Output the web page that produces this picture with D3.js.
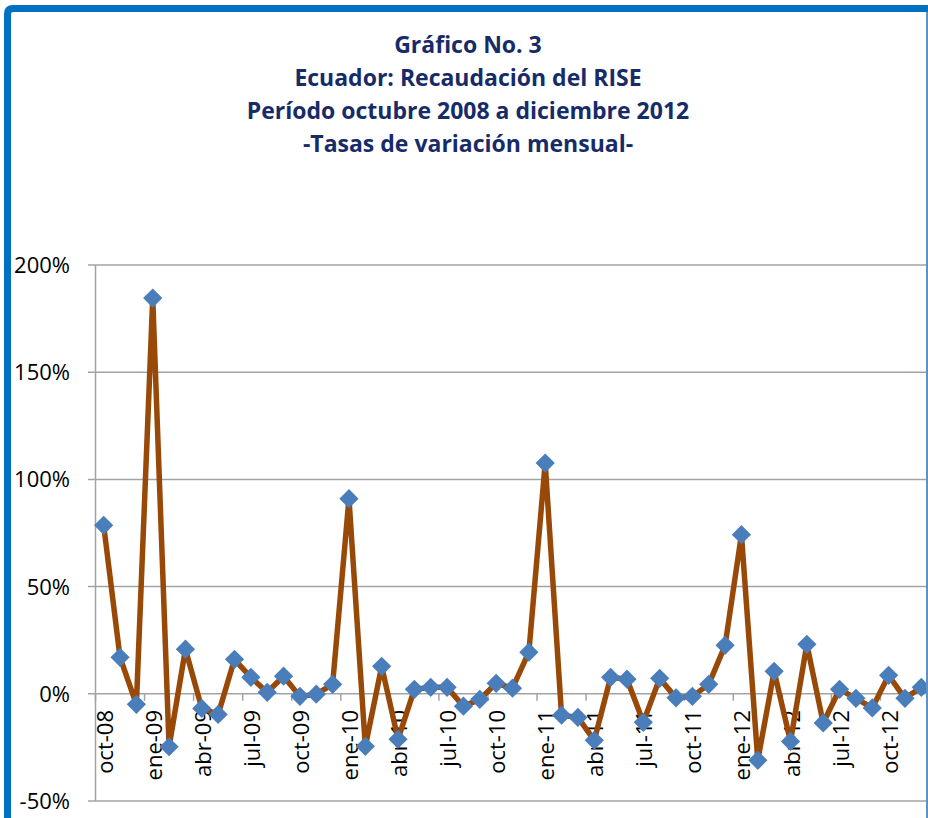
<!DOCTYPE html>
<html>
<head>
<meta charset="utf-8">
<script src="https://cdn.jsdelivr.net/npm/d3@7"></script>
<style>
  body { margin: 0; background: #fff; }
  svg { display: block; font-family: "Open Sans", sans-serif; }
  .grid line { stroke: #a3a3a3; stroke-width: 1.5; }
  .ylab { font-size: 22px; fill: #000; }
  .xlab { font-size: 22px; fill: #000; }
  .title { font-size: 23px; font-weight: bold; fill: #172b69; }
</style>
</head>
<body>
<svg id="chart" width="928" height="818"></svg>
<script>
// months oct-08 .. dic-12
var months = ["oct-08","nov-08","dic-08",
  "ene-09","feb-09","mar-09","abr-09","may-09","jun-09","jul-09","ago-09","sep-09","oct-09","nov-09","dic-09",
  "ene-10","feb-10","mar-10","abr-10","may-10","jun-10","jul-10","ago-10","sep-10","oct-10","nov-10","dic-10",
  "ene-11","feb-11","mar-11","abr-11","may-11","jun-11","jul-11","ago-11","sep-11","oct-11","nov-11","dic-11",
  "ene-12","feb-12","mar-12","abr-12","may-12","jun-12","jul-12","ago-12","sep-12","oct-12","nov-12","dic-12"];

// monthly variation, percent
var tasas = [78.6, 17.0, -4.9,
  184.6, -24.7, 20.8, -6.8, -9.6, 16.1, 7.7, 0.7, 8.2, -1.2, -0.2, 4.4,
  91.0, -24.5, 12.8, -21.2, 2.1, 3.0, 3.0, -5.8, -2.6, 4.9, 2.6, 19.4,
  107.6, -10.0, -11.0, -21.7, 7.7, 6.8, -13.3, 7.2, -1.9, -1.2, 4.4, 22.6,
  74.2, -31.0, 10.5, -22.2, 23.1, -13.6, 2.1, -2.1, -6.6, 8.6, -2.1, 3.0];

var yTicks = [-50, 0, 50, 100, 150, 200];

var titleLines = ["Gráfico No. 3",
  "Ecuador: Recaudación del RISE",
  "Período octubre 2008 a diciembre 2012",
  "-Tasas de variación mensual-"];

var svg = d3.select("#chart");

var x = d3.scaleBand()
    .domain(months)
    .range([95.5, 929.5]);

var y = d3.scaleLinear()
    .domain([-50, 200])
    .range([801, 265]);

var step = x.step();

// title
svg.selectAll(".title")
    .data(titleLines)
  .enter().append("text")
    .attr("class", "title")
    .attr("x", 468)
    .attr("y", function(d, i) { return 53 + i * 33; })
    .attr("text-anchor", "middle")
    .text(function(d) { return d; });

svg.append("clipPath")
    .attr("id", "clip")
  .append("rect")
    .attr("x", 0)
    .attr("y", 0)
    .attr("width", 926)
    .attr("height", 818);

var plot = svg.append("g")
    .attr("clip-path", "url(#clip)");

// horizontal gridlines (with the little tick out to the left)
plot.append("g")
    .attr("class", "grid")
    .selectAll("line")
    .data(yTicks)
  .enter().append("line")
    .attr("x1", 88)
    .attr("x2", 930)
    .attr("y1", function(d) { return y(d); })
    .attr("y2", function(d) { return y(d); });

// y axis line
plot.append("line")
    .attr("x1", x.range()[0])
    .attr("x2", x.range()[0])
    .attr("y1", y(200))
    .attr("y2", y(-50))
    .style("stroke", "#a3a3a3")
    .style("stroke-width", 1.5);

// x tick marks between categories, every 3
var boundaries = d3.range(0, months.length + 1, 3);
plot.selectAll(".xtick")
    .data(boundaries)
  .enter().append("line")
    .attr("class", "xtick")
    .attr("x1", function(k) { return x.range()[0] + k * step; })
    .attr("x2", function(k) { return x.range()[0] + k * step; })
    .attr("y1", y(0))
    .attr("y2", y(0) + 7)
    .style("stroke", "#a3a3a3")
    .style("stroke-width", 1.5);

// y labels
svg.selectAll(".ylab")
    .data(yTicks)
  .enter().append("text")
    .attr("class", "ylab")
    .attr("x", 70)
    .attr("y", function(d) { return y(d); })
    .attr("dy", ".36em")
    .attr("text-anchor", "end")
    .text(function(d) { return d + "%"; });

// x labels, rotated
plot.selectAll(".xlab")
    .data(months.filter(function(d, i) { return i % 3 == 0; }))
  .enter().append("text")
    .attr("class", "xlab")
    .attr("text-anchor", "end")
    .attr("transform", function(d) {
      return "translate(" + (x(d) + step / 2 + 9) + "," + 710 + ")rotate(-90)";
    })
    .text(function(d) { return d; });

// series line
var line = d3.line()
    .x(function(d, i) { return x(months[i]) + step / 2; })
    .y(function(d) { return y(d); });

plot.append("path")
    .datum(tasas)
    .attr("d", line)
    .style("fill", "none")
    .style("stroke", "#984807")
    .style("stroke-width", 5.5)
    .style("stroke-linejoin", "round");

// diamond markers
var diamond = d3.symbol().type(d3.symbolSquare).size(185);
plot.selectAll(".pt")
    .data(tasas)
  .enter().append("path")
    .attr("class", "pt")
    .attr("d", diamond)
    .attr("transform", function(d, i) {
      return "translate(" + (x(months[i]) + step / 2) + "," + y(d) + ")rotate(45)";
    })
    .style("fill", "#4a7ebb");

// frame: thick left/top, thin right
svg.append("path")
    .attr("d", "M7.5,818 V14 Q7.5,8.5 13,8.5 H928")
    .style("fill", "none")
    .style("stroke", "#0070c0")
    .style("stroke-width", 7);

svg.append("line")
    .attr("x1", 927)
    .attr("x2", 927)
    .attr("y1", 12)
    .attr("y2", 818)
    .style("stroke", "#2a6cb0")
    .style("stroke-width", 1.5);
</script>
</body>
</html>
